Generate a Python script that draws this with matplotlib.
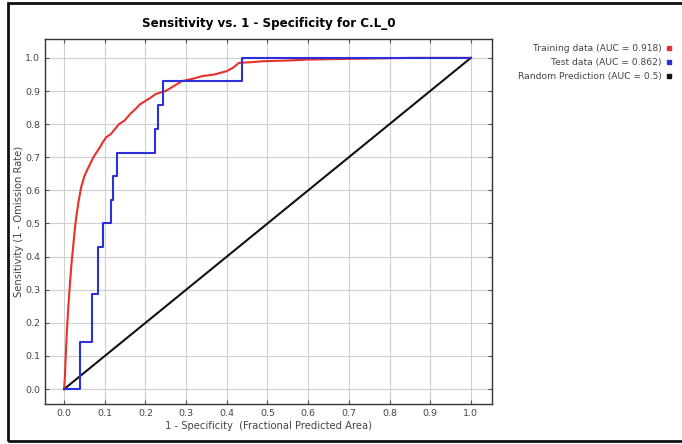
import numpy as np
import matplotlib.pyplot as plt
from matplotlib.lines import Line2D
from matplotlib.patches import Rectangle

# training ROC
train_fpr = [0, 0.002, 0.004, 0.007, 0.011, 0.015, 0.019, 0.023, 0.027, 0.031, 0.036,
             0.042, 0.049, 0.056, 0.064, 0.072, 0.08, 0.088, 0.095, 0.103, 0.115,
             0.125, 0.135, 0.148, 0.162, 0.175, 0.187, 0.2, 0.213, 0.224, 0.235,
             0.25, 0.27, 0.29, 0.31, 0.34, 0.37, 0.40, 0.415, 0.43, 0.46, 0.49,
             0.55, 0.6, 0.7, 0.85, 1.0]
train_tpr = [0, 0.04, 0.10, 0.18, 0.26, 0.33, 0.39, 0.44, 0.49, 0.53, 0.57,
             0.61, 0.64, 0.66, 0.68, 0.70, 0.715, 0.73, 0.745, 0.76, 0.77,
             0.785, 0.80, 0.81, 0.83, 0.845, 0.86, 0.87, 0.88, 0.89, 0.895,
             0.90, 0.915, 0.93, 0.935, 0.945, 0.95, 0.96, 0.97, 0.985, 0.987, 0.99,
             0.992, 0.995, 0.997, 1.0, 1.0]

# test ROC, step curve
test_fpr = [0, 0.039, 0.068, 0.084, 0.095, 0.115, 0.121, 0.129, 0.224, 0.232, 0.244, 0.437, 1.0]
test_tpr = [0, 0.143, 0.286, 0.429, 0.5, 0.571, 0.643, 0.714, 0.786, 0.857, 0.929, 1.0, 1.0]

random_x = [0, 1]
random_y = [0, 1]

labels = ["Training data (AUC = 0.918)", "Test data (AUC = 0.862)",
          "Random Prediction (AUC = 0.5)"]
colors = ["#e8302c", "#2d2fd8", "#111111"]
ticks = np.round(np.arange(0, 1.01, 0.1), 1)

fig = plt.figure(figsize=(6.82, 4.44), dpi=100)
ax = fig.add_axes([45/682, 1 - 404/444, 447/682, 365/444])

ax.plot(random_x, random_y, color=colors[2], lw=1.5, zorder=3)
ax.plot(train_fpr, train_tpr, color=colors[0], lw=1.5, zorder=4)
ax.plot(test_fpr, test_tpr, color=colors[1], lw=1.5, drawstyle="steps-post", zorder=5)

ax.set_xlim(-0.047, 1.052)
ax.set_ylim(-0.045, 1.057)
ax.set_xticks(ticks)
ax.set_yticks(ticks)
ax.set_xticklabels([f"{t:.1f}" for t in ticks])
ax.set_yticklabels([f"{t:.1f}" for t in ticks])
ax.tick_params(direction="in", top=True, right=True, length=3, labelsize=6.8,
               labelcolor="#444444", color="#555555")
ax.grid(True, color="#cfcfcf", lw=0.8)
ax.set_axisbelow(True)
for s in ax.spines.values():
    s.set_color("#333333")
    s.set_linewidth(1)

ax.set_title("Sensitivity vs. 1 - Specificity for C.L_0", fontsize=8.6,
             fontweight="bold", pad=9)
ax.set_xlabel("1 - Specificity  (Fractional Predicted Area)", fontsize=7.2,
              color="#444444", labelpad=2)
ax.set_ylabel("Sensitivity (1 - Omission Rate)", fontsize=7.2, color="#444444",
              labelpad=1)

handles = [Line2D([], [], ls="none", marker="s", ms=3, color=c) for c in colors]
fig.legend(handles, labels, loc="upper right", bbox_to_anchor=(680/682, 1 - 36/444),
           markerfirst=False, frameon=False, fontsize=6.6, labelspacing=0.55,
           handlelength=0.6, handletextpad=0.5, labelcolor="#444444")

# outer frame
fig.patches.append(Rectangle((8/682, 3/444), 700/682, 438/444, transform=fig.transFigure,
                             fill=False, ec="#111111", lw=2))

fig.savefig("out.png", dpi=100)
